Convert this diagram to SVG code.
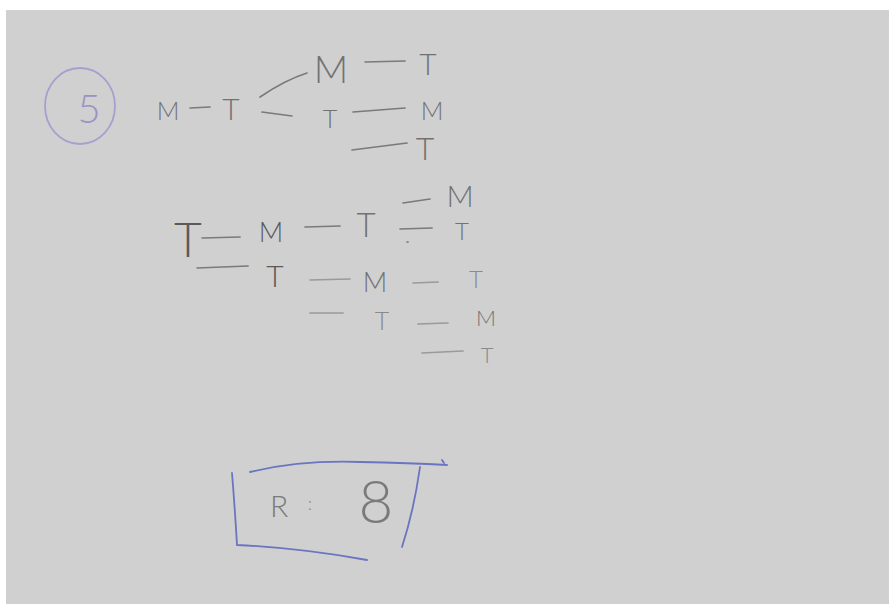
<svg xmlns="http://www.w3.org/2000/svg" width="889" height="604" viewBox="0 0 889 604">
<style>
.lt{font-family:Lato,"Liberation Sans",sans-serif;font-weight:300;fill:#727272;text-anchor:middle}
.dk{fill:#5a5a5a}
.fa{fill:#8a8a8a}
.c line,.c path{stroke:#7a7a7a;stroke-width:1.7;stroke-linecap:round;fill:none}
.c .f{stroke:#9a9a9a}
.bx{stroke:#6b74bf;stroke-width:1.8;fill:none;stroke-linecap:round}
</style>
<rect x="0" y="0" width="889" height="604" fill="#ffffff"/>
<rect x="6" y="10" width="883" height="594" fill="#d0d0d0"/>
<g id="n5">
<ellipse cx="80" cy="106" rx="35" ry="38" fill="none" stroke="#a79fcd" stroke-width="1.8"/>
<text x="89" y="123" class="lt" font-size="40" style="fill:#9a93c4">5</text>
</g>
<g id="M1"><text x="168" y="120" class="lt" font-size="25">M</text></g>
<g id="T1"><text x="231" y="120" class="lt" font-size="30">T</text></g>
<g id="M2"><text x="331" y="83" class="lt" font-size="38">M</text></g>
<g id="T2"><text x="428" y="75" class="lt" font-size="30">T</text></g>
<g id="T3"><text x="330" y="128" class="lt" font-size="25">T</text></g>
<g id="M3"><text x="432" y="120" class="lt" font-size="25">M</text></g>
<g id="T4"><text x="425" y="160" class="lt" font-size="32">T</text></g>
<g id="T5"><text x="188" y="257" class="lt dk" font-size="48">T</text></g>
<g id="M4"><text x="271" y="242" class="lt dk" font-size="27">M</text></g>
<g id="T6"><text x="366" y="237" class="lt" font-size="33">T</text></g>
<g id="M5"><text x="460" y="207" class="lt" font-size="30">M</text></g>
<g id="T7"><text x="462" y="240" class="lt" font-size="24">T</text></g>
<g id="T8"><text x="275" y="287" class="lt dk" font-size="30">T</text></g>
<g id="M6"><text x="375" y="292" class="lt" font-size="27">M</text></g>
<g id="T9"><text x="476" y="288" class="lt fa" font-size="24">T</text></g>
<g id="T10"><text x="382" y="330" class="lt fa" font-size="25">T</text></g>
<g id="M7"><text x="486" y="326" class="lt" font-size="22">M</text></g>
<g id="T11"><text x="487" y="363" class="lt fa" font-size="22">T</text></g>
<g id="connectors" class="c">
<line x1="190" y1="108" x2="210" y2="107"/>
<path d="M260,97 Q285,80 307,73"/>
<line x1="262" y1="112" x2="292" y2="116"/>
<line x1="365" y1="62" x2="405" y2="61"/>
<line x1="353" y1="112" x2="405" y2="108"/>
<line x1="352" y1="150" x2="407" y2="143"/>
<line x1="202" y1="238" x2="240" y2="237"/>
<line x1="305" y1="227" x2="340" y2="226"/>
<line x1="197" y1="268" x2="248" y2="266"/>
<line x1="310" y1="280" x2="350" y2="279" class="f"/>
<line x1="403" y1="203" x2="430" y2="199"/>
<line x1="400" y1="229" x2="432" y2="228"/>
<line x1="407" y1="242" x2="408" y2="242"/>
<line x1="413" y1="283" x2="438" y2="282" class="f"/>
<line x1="310" y1="313" x2="343" y2="313" class="f"/>
<line x1="418" y1="324" x2="448" y2="323" class="f"/>
<line x1="422" y1="353" x2="463" y2="351" class="f"/>
</g>
<g id="result">
<path class="bx" d="M250,472 Q300,460 360,462 Q410,463 447,465"/>
<path class="bx" d="M442,460 L444,463"/>
<path class="bx" d="M232,473 Q235,510 237,545 Q300,548 367,560"/>
<path class="bx" d="M420,467 Q414,510 402,547"/>
<text x="279" y="517" class="lt" font-size="30" style="fill:#7a7a7a">R</text>
<text x="310" y="510" class="lt" font-size="18" style="fill:#8a8a8a">:</text>
<text x="376" y="523" class="lt" font-size="60" style="fill:#7a7a7a">8</text>
</g>
</svg>
